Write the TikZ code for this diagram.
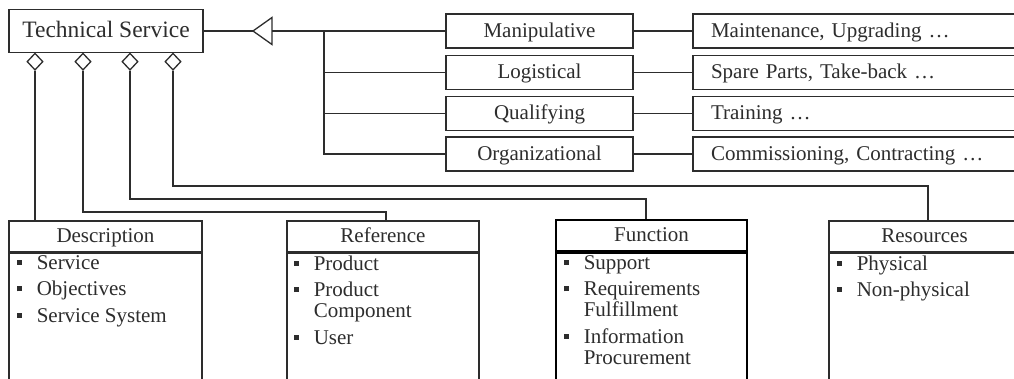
\documentclass[tikz,border=0pt]{standalone}
\usepackage{fontspec}
\setmainfont{Liberation Serif}
\usetikzlibrary{shapes.geometric}
\definecolor{ln}{RGB}{45,45,45}
\newcommand\bul{\makebox[20pt][l]{\rule[4.5pt]{5pt}{5pt}}}
\newcommand\ind{\hspace*{20pt}}
\begin{document}
\begin{tikzpicture}[x=1pt,y=-1pt,line width=1.5pt,color=ln,
  box/.style={draw=ln,line width=1.3pt,rectangle,inner sep=0pt,
    font=\fontsize{21}{21}\selectfont,text height=15pt,text depth=3pt},
  midbox/.style={box,minimum width=187pt,minimum height=34pt},
  rbox/.style={box,minimum width=327pt,minimum height=34pt,text width=291pt,
    align=left,inner xsep=18pt},
  hdr/.style={box,minimum height=31pt},
  body/.style={box,minimum height=150pt,anchor=north},
  bold/.style={draw=black,line width=1.9pt},
  list/.style={inner sep=0pt,inner ysep=2.7pt,align=left,anchor=north west,
    font=\fontsize{21}{21}\selectfont},
  dia/.style={diamond,draw=ln,fill=white,line width=1.3pt,minimum width=16pt,
    minimum height=17pt,inner sep=0pt,anchor=north}]
\useasboundingbox (0,0) rectangle (1014,378);
\fill[white] (0,0) rectangle (1014,378);
\clip (0,0) rectangle (1014,378);

% main class
\node[box,minimum width=194pt,minimum height=43pt,
  font=\fontsize{23.5}{24}\selectfont] (ts) at (106,31) {Technical Service};

% middle boxes
\node[midbox] (man) at (539.5,31) {Manipulative};
\node[midbox] (log) at (539.5,72.5) {Logistical};
\node[midbox] (qua) at (539.5,113.5) {Qualifying};
\node[midbox] (org) at (539.5,154) {Organizational};

% right boxes
\node[rbox] (mai) at (856.5,31) {Maintenance, Upgrading …};
\node[rbox] (spa) at (856.5,72.5) {Spare Parts, Take-back …};
\node[rbox] (tra) at (856.5,113.5) {Training …};
\node[rbox] (com) at (856.5,154) {Commissioning, Contracting …};

% inheritance
\coordinate (tip) at (253,31);
\coordinate (ta) at (272,17.5);
\coordinate (tb) at (272,44.5);
\coordinate (tm) at (272,31);
\coordinate (j) at (324,31);
\draw (ts.east) -- (tip);
\draw[fill=white,line width=1.3pt] (tip) -- (ta) -- (tb) -- cycle;
\draw (tm) -- (man.west);
\draw (j) |- (log.west);
\draw (j) |- (qua.west);
\draw (j) |- (org.west);

\draw (man.east) -- (mai.west);
\draw (log.east) -- (spa.west);
\draw (qua.east) -- (tra.west);
\draw (org.east) -- (com.west);

% bottom boxes
\node[hdr,minimum width=193pt] (desch) at (105.5,236.5) {Description};
\node[body,minimum width=193pt] (descb) at (desch.south) {};
\node[hdr,minimum width=192pt] (refh) at (383,236.5) {Reference};
\node[body,minimum width=192pt] (refb) at (refh.south) {};
\node[hdr,bold,minimum width=191pt] (funh) at (651.5,235.5) {Function};
\node[body,bold,minimum width=191pt] (funb) at (funh.south) {};
\node[hdr,minimum width=191pt] (resh) at (924.5,236.5) {Resources};
\node[body,minimum width=191pt] (resb) at (resh.south) {};

\node[list] (desct) at (16,252) {\bul Service\\[5.5pt]\bul Objectives\\[5.5pt]\bul Service System};
\node[list] (reft) at (293,252) {\bul Product\\[5.5pt]\bul Product\\\ind Component\\[5.5pt]\bul User};
\node[list] (funt) at (563,252) {\bul Support\\[5.5pt]\bul Requirements\\\ind Fulfillment\\[5.5pt]\bul Information\\\ind Procurement};
\node[list] (rest) at (836,252) {\bul Physical\\[5.5pt]\bul Non-physical};

% aggregation diamonds
\node[dia] (d1) at (35,52.5) {};
\node[dia] (d2) at (83,52.5) {};
\node[dia] (d3) at (130,52.5) {};
\node[dia] (d4) at (173,52.5) {};

\coordinate (c2) at (386,212);
\coordinate (c3) at (646,199);
\coordinate (c4) at (928,186);
\draw (d1.south) -- (d1.south |- desch.north);
\draw (d2.south) |- (c2) -- (c2 |- refh.north);
\draw (d3.south) |- (c3) -- (c3 |- funh.north);
\draw (d4.south) |- (c4) -- (c4 |- resh.north);
\end{tikzpicture}
\end{document}
